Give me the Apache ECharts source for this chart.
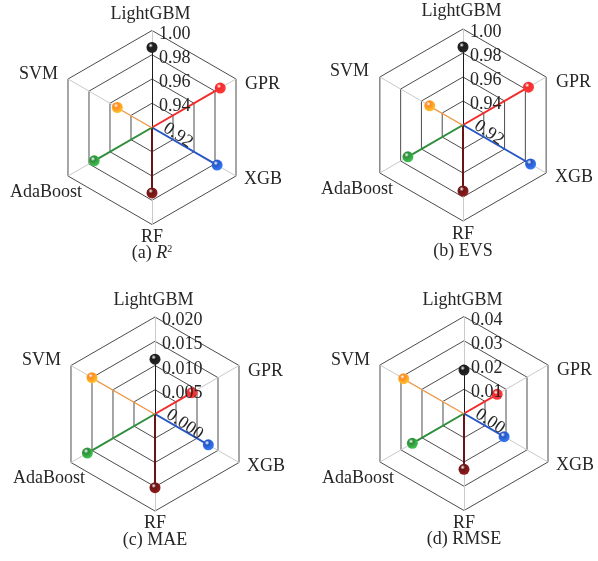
<!DOCTYPE html>
<html>
<head>
<meta charset="utf-8">
<script src="https://cdn.jsdelivr.net/npm/echarts@6/dist/echarts.min.js"></script>
<style>
  html, body { margin: 0; padding: 0; background: #ffffff; }
  #chart { width: 598px; height: 561px; }
</style>
</head>
<body>
<div id="chart"></div>
<script>
// Models, listed clockwise starting from the top spoke
const models = ['LightGBM', 'GPR', 'XGB', 'RF', 'AdaBoost', 'SVM'];
const modelColors = ['#1c1c1c', '#f32b2b', '#2757c6', '#6a1515', '#2e8e3b', '#ff8b20'];

// Metric values per model (same order as `models`)
const r2Values   = [0.986, 0.985, 0.982, 0.974, 0.975, 0.953];
const evsValues  = [0.985, 0.983, 0.985, 0.975, 0.973, 0.952];
const maeValues  = [0.0113, 0.0088, 0.0127, 0.0152, 0.0161, 0.0150];
const rmseValues = [0.0179, 0.0158, 0.0191, 0.0230, 0.0246, 0.0287];

// Tick labels for each radial scale (centre to rim)
const r2Ticks   = ['0.92', '0.94', '0.96', '0.98', '1.00'];
const evsTicks  = ['0.92', '0.94', '0.96', '0.98', '1.00'];
const maeTicks  = ['0.000', '0.005', '0.010', '0.015', '0.020'];
const rmseTicks = ['0.00', '0.01', '0.02', '0.03', '0.04'];

const FONT = "'Liberation Serif', 'Times New Roman', serif";
const FONT_SIZE = 18;
const TEXT_COLOR = '#262626';

const panels = [
  { values: r2Values,   ticks: r2Ticks,   center: [152, 127.5], radius: 97, title: '(a) {it|R}{sup|2}' },
  { values: evsValues,  ticks: evsTicks,  center: [463, 125],   radius: 96, title: '(b) EVS' },
  { values: maeValues,  ticks: maeTicks,  center: [155, 414],   radius: 97, title: '(c) MAE' },
  { values: rmseValues, ticks: rmseTicks, center: [464, 413.5], radius: 97, title: '(d) RMSE' }
];

// Where each model name sits relative to its panel centre, and how it is anchored
const nameSpots = [
  { dx: -1.5, dy: -113.5, align: 'center' },
  { dx: 93,   dy: -43,    align: 'left' },
  { dx: 92,   dy: 52,     align: 'left' },
  { dx: 0,    dy: 109.5,  align: 'center' },
  { dx: -70,  dy: 64.5,   align: 'right' },
  { dx: -94,  dy: -53.5,  align: 'right' }
];

// Radar indicators run counter-clockwise, so feed them in reverse order after the top one
const radarOrder = [0, 5, 4, 3, 2, 1];

function sphere(color) {
  return {
    type: 'radial', x: 0.38, y: 0.32, r: 0.75,
    colorStops: [
      { offset: 0, color: '#ffffff' },
      { offset: 0.28, color: color },
      { offset: 1, color: echarts.color.lift(color, -0.45) }
    ]
  };
}

const option = {
  backgroundColor: '#ffffff',
  animation: false,
  radar: [], polar: [], angleAxis: [], radiusAxis: [], series: [], graphic: []
};

panels.forEach(function (p, i) {
  const min = parseFloat(p.ticks[0]);
  const max = parseFloat(p.ticks[p.ticks.length - 1]);
  const interval = (max - min) / (p.ticks.length - 1);
  const cx = p.center[0], cy = p.center[1];

  // hexagonal grid
  option.radar.push({
    center: p.center,
    radius: p.radius,
    startAngle: 90,
    splitNumber: p.ticks.length - 1,
    shape: 'polygon',
    indicator: radarOrder.map(function (k) { return { name: models[k], min: min, max: max }; }),
    axisName: { show: false },
    splitLine: { lineStyle: { color: '#4c4c4c', width: 1 } },
    splitArea: { show: false },
    axisLine: { lineStyle: { color: '#cacaca', width: 1 } },
    axisTick: { show: false },
    axisLabel: { show: false },
    z: 1
  });

  // polar system sharing the same centre/radius for the value spokes
  option.polar.push({ center: p.center, radius: [0, p.radius] });

  option.angleAxis.push({
    polarIndex: i, type: 'category', data: models,
    startAngle: 90, clockwise: true, boundaryGap: false, show: false
  });

  option.radiusAxis.push({
    polarIndex: i, type: 'value', min: min, max: max, interval: interval,
    axisLine: { show: false }, axisTick: { show: false }, splitLine: { show: false },
    axisLabel: {
      show: true, fontFamily: FONT, fontSize: FONT_SIZE, color: TEXT_COLOR,
      margin: -7, align: 'left', verticalAlign: 'middle',
      rich: { t: { fontFamily: FONT, fontSize: FONT_SIZE, color: TEXT_COLOR, padding: [7, 0, 0, 0] } },
      formatter: function (v) {
        const idx = Math.round((v - min) / interval);
        return idx === 0 ? '' : '{t|' + p.ticks[idx] + '}';
      }
    },
    z: 4
  });

  // rotated label for the centre value
  option.graphic.push({
    type: 'text',
    x: cx + 13, y: cy - 1,
    rotation: -0.6,
    style: { text: p.ticks[0], fontFamily: FONT, fontSize: FONT_SIZE, fill: TEXT_COLOR, align: 'left', verticalAlign: 'middle' },
    z: 10
  });

  // model names around the hexagon
  models.forEach(function (m, k) {
    const s = nameSpots[k];
    option.graphic.push({
      type: 'text',
      x: cx + s.dx, y: cy + s.dy,
      style: { text: m, fontFamily: FONT, fontSize: FONT_SIZE, fill: TEXT_COLOR, align: s.align, verticalAlign: 'middle' },
      z: 10
    });
  });

  // panel caption
  option.graphic.push({
    type: 'text',
    x: cx, y: cy + 126,
    style: {
      text: p.title, fontFamily: FONT, fontSize: FONT_SIZE, fill: TEXT_COLOR,
      align: 'center', verticalAlign: 'middle',
      rich: {
        it: { fontFamily: FONT, fontSize: FONT_SIZE, fontStyle: 'italic', fill: TEXT_COLOR },
        sup: { fontFamily: FONT, fontSize: 10, fill: TEXT_COLOR, verticalAlign: 'top', padding: [0, 0, 9, 0] }
      }
    },
    z: 10
  });

  // one coloured spoke per model, ending in a shaded ball at its value
  models.forEach(function (m, k) {
    option.series.push({
      type: 'line', coordinateSystem: 'polar', polarIndex: i,
      name: m, silent: true, z: 3,
      symbol: 'circle', symbolSize: 11,
      lineStyle: { color: modelColors[k], width: 2 },
      itemStyle: { color: sphere(modelColors[k]) },
      data: [
        { value: [min, m], symbol: 'none' },
        { value: [p.values[k], m] }
      ]
    });
  });
});

const chart = echarts.init(document.getElementById('chart'), null, { renderer: 'canvas' });
chart.setOption(option);
</script>
</body>
</html>
